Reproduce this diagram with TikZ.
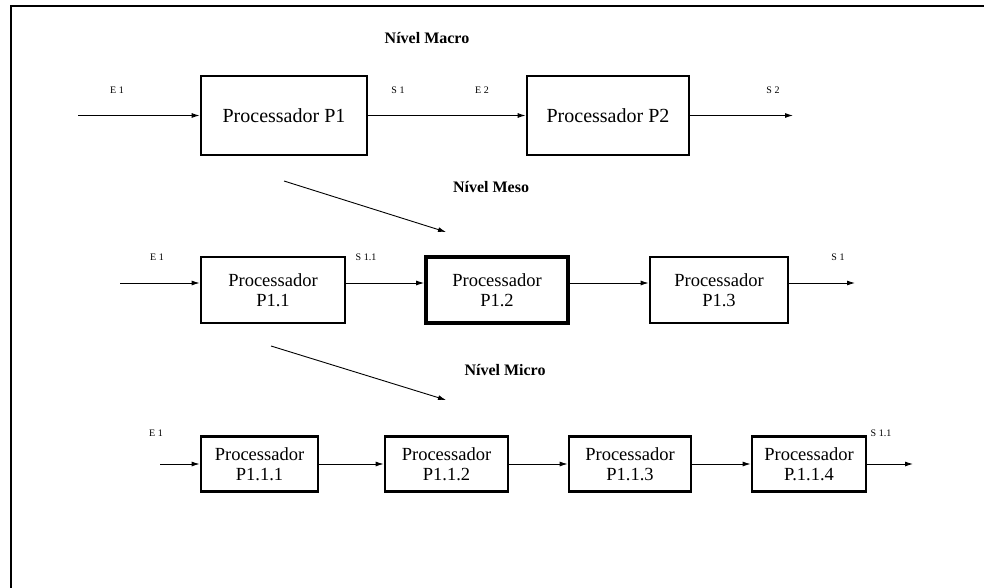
\documentclass[tikz,border=0pt]{standalone}
\usepackage{fontspec}
\setmainfont{Liberation Serif}
\usetikzlibrary{arrows.meta}
\begin{document}
\begin{tikzpicture}[x=1pt,y=-1pt,
  proc/.style={draw, line width=2.8pt, inner sep=0pt, align=center, font=\fontsize{18.5}{19.5}\selectfont},
  bigproc/.style={proc, font=\fontsize{20}{22}\selectfont},
  thickproc/.style={proc, line width=3.8pt},
  lbl/.style={font=\fontsize{10}{12}\selectfont, inner sep=0pt},
  title/.style={font=\bfseries\fontsize{16}{18}\selectfont, inner sep=0pt},
  flow/.style={line width=0.9pt, -{Latex[length=8pt,width=5pt]}}]
\useasboundingbox (0,0) rectangle (984,588);
\draw[line width=2.4pt] (11,588) -- (11,6) -- (984,6);

% titles
\node[title] (tmacro) at (427,38) {Nível Macro};
\node[title] (tmeso) at (491,187) {Nível Meso};
\node[title] (tmicro) at (505,370) {Nível Micro};

% row 1
\node[bigproc, minimum width=166pt, minimum height=79pt] (p1) at (284,115.5) {Processador P1};
\node[bigproc, minimum width=162pt, minimum height=79pt] (p2) at (608,115.5) {Processador P2};
\coordinate (in1) at (78,115.5);
\coordinate (out1) at (793,115.5);
\draw[flow] (in1) -- (p1);
\draw[flow] (p1) -- (p2);
\draw[flow] (p2) -- (out1);
\node[lbl] (le1) at (117,90) {E 1};
\node[lbl] (ls1) at (398,90) {S 1};
\node[lbl] (le2) at (482,90) {E 2};
\node[lbl] (ls2) at (773,90) {S 2};

% diagonal 1
\coordinate (d1a) at (284,181);
\coordinate (d1b) at (446,232);
\draw[flow] (d1a) -- (d1b);

% row 2
\node[proc, minimum width=144pt, minimum height=66pt] (p11) at (273,290) {Processador\\P1.1};
\node[thickproc, minimum width=142pt, minimum height=66pt] (p12) at (497,290) {Processador\\P1.2};
\node[proc, minimum width=138pt, minimum height=66pt] (p13) at (719,290) {Processador\\P1.3};
\coordinate (in2) at (120,283);
\coordinate (out2) at (855,283);
\draw[flow] (in2) -- (p11.west |- in2);
\draw[flow] (p11.east |- in2) -- (p12.west |- in2);
\draw[flow] (p12.east |- in2) -- (p13.west |- in2);
\draw[flow] (p13.east |- in2) -- (out2);
\node[lbl] (le1b) at (157,257) {E 1};
\node[lbl] (ls11) at (366,257) {S 1.1};
\node[lbl] (ls1b) at (838,257) {S 1};

% diagonal 2
\coordinate (d2a) at (271,346);
\coordinate (d2b) at (446,400);
\draw[flow] (d2a) -- (d2b);

% row 3
\node[proc, minimum width=117pt, minimum height=55pt] (p111) at (259.5,464) {Processador\\P1.1.1};
\node[proc, minimum width=123pt, minimum height=55pt] (p112) at (446.5,464) {Processador\\P1.1.2};
\node[proc, minimum width=122pt, minimum height=55pt] (p113) at (630,464) {Processador\\P1.1.3};
\node[proc, minimum width=114pt, minimum height=55pt] (p114) at (809,464) {Processador\\P.1.1.4};
\coordinate (in3) at (160,464);
\coordinate (out3) at (913,464);
\draw[flow] (in3) -- (p111);
\draw[flow] (p111) -- (p112);
\draw[flow] (p112) -- (p113);
\draw[flow] (p113) -- (p114);
\draw[flow] (p114) -- (out3);
\node[lbl] (le1c) at (156,433) {E 1};
\node[lbl] (ls11c) at (881,433) {S 1.1};
\end{tikzpicture}
\end{document}
